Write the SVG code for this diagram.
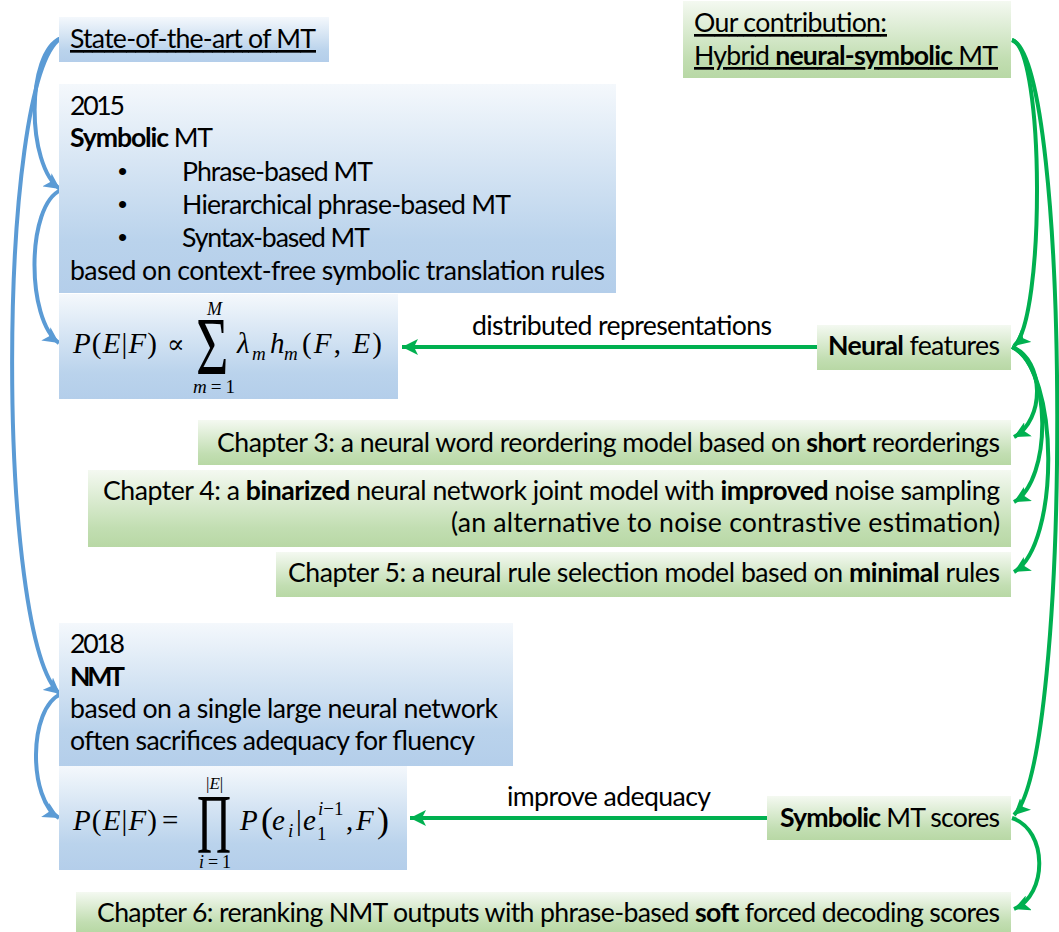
<svg xmlns="http://www.w3.org/2000/svg" width="1059" height="932" viewBox="0 0 1059 932">
<defs>
<linearGradient id="gb" x1="0" y1="0" x2="0" y2="1">
<stop offset="0" stop-color="#F4F8FC"/>
<stop offset="0.75" stop-color="#BAD3EC"/>
<stop offset="1" stop-color="#B4CEEA"/>
</linearGradient>
<linearGradient id="gg" x1="0" y1="0" x2="0" y2="1">
<stop offset="0" stop-color="#F4F9F1"/>
<stop offset="0.75" stop-color="#C2DEB2"/>
<stop offset="1" stop-color="#B8D8A5"/>
</linearGradient>
<marker id="ab" markerUnits="userSpaceOnUse" markerWidth="18" markerHeight="16" refX="16" refY="8" orient="auto">
<path d="M0,0 L16,8 L0,16 L4,8 Z" fill="#5B9BD5"/>
</marker>
<marker id="ag" markerUnits="userSpaceOnUse" markerWidth="18" markerHeight="16" refX="16" refY="8" orient="auto">
<path d="M0,0 L16,8 L0,16 L4,8 Z" fill="#00B050"/>
</marker>
</defs>
<style>
.bx{fill:url(#gb)}
.gx{fill:url(#gg)}
.t{font-family:Lato,"Liberation Sans",sans-serif;font-size:26.67px;fill:#000}
.b{font-weight:bold}
.u{text-decoration:underline}
.m{font-family:"Liberation Serif","DejaVu Serif",serif;fill:#000}
.i{font-style:italic}
.bul{font-family:"Liberation Sans",sans-serif;font-size:26px;fill:#000}
.cb{fill:none;stroke:#5B9BD5;stroke-width:4;marker-end:url(#ab)}
.cg{fill:none;stroke:#00B050;stroke-width:4;marker-end:url(#ag)}
</style>

<g id="connectors">
<path class="cb" d="M61,38 C26,52 26,165 60,189"/>
<path class="cb" d="M61,190 C26,205 26,320 59,343"/>
<path class="cb" d="M61,38 C-4,80 -4,640 60,694"/>
<path class="cb" d="M61,694 C28,708 28,800 59,818"/>
<path class="cg" d="M1012,40 C1045,50 1045,320 1014,346"/>
<path class="cg" d="M1012,40 C1072,60 1072,760 1014,815"/>
<path class="cg" d="M1012,347 C1045,360 1045,420 1014,437"/>
<path class="cg" d="M1012,347 C1052,365 1052,480 1014,502"/>
<path class="cg" d="M1012,347 C1060,370 1060,545 1014,572"/>
<path class="cg" d="M1012,818 C1048,830 1048,895 1014,909"/>
<path class="cg" d="M817,347 L402,347"/>
<path class="cg" d="M767,818 L410,818"/>
<text class="t" x="472" y="335" textLength="300">distributed representations</text>
<text class="t" x="507" y="806" textLength="204">improve adequacy</text>
</g>

<g id="state">
<rect class="bx" x="59" y="17" width="270" height="45"/>
<text class="t u" x="70" y="48" textLength="246">State-of-the-art of MT</text>
</g>

<g id="smt2015">
<rect class="bx" x="59" y="84" width="557" height="209"/>
<text class="t" x="70" y="115" textLength="55">2015</text>
<text class="t" x="70" y="147" textLength="143"><tspan class="b">Symbolic</tspan> MT</text>
<text class="bul" x="118" y="180">•</text>
<text class="t" x="182" y="181" textLength="191">Phrase-based MT</text>
<text class="bul" x="118" y="213">•</text>
<text class="t" x="182" y="214" textLength="329">Hierarchical phrase-based MT</text>
<text class="bul" x="118" y="246">•</text>
<text class="t" x="182" y="247" textLength="188">Syntax-based MT</text>
<text class="t" x="70" y="280" textLength="535">based on context-free symbolic translation rules</text>
</g>

<g id="formula1">
<rect class="bx" x="59" y="294" width="339" height="105"/>
<text class="m" x="73" y="353" font-size="29" textLength="84"><tspan class="i">P</tspan>(<tspan class="i">E</tspan>|<tspan class="i">F</tspan>)</text>
<text class="m" x="167" y="353" font-size="26" font-family="DejaVu Serif">∝</text>
<text class="m" x="0" y="0" font-size="82" transform="translate(196,374) scale(0.68,1)">Σ</text>
<text class="m i" x="207" y="315" font-size="18">M</text>
<text class="m" x="193" y="393" font-size="19" textLength="42"><tspan class="i">m</tspan>=1</text>
<text class="m i" x="237" y="353" font-size="29">λ</text>
<text class="m i" x="252" y="360" font-size="19">m</text>
<text class="m i" x="270" y="353" font-size="29">h</text>
<text class="m i" x="284" y="360" font-size="19">m</text>
<text class="m" x="302" y="353" font-size="29" textLength="80">(<tspan class="i">F</tspan>, <tspan class="i">E</tspan>)</text>
</g>

<g id="nmt2018">
<rect class="bx" x="59" y="623" width="454" height="143"/>
<text class="t" x="70" y="653" textLength="55">2018</text>
<text class="t b" x="70" y="686" textLength="55">NMT</text>
<text class="t" x="70" y="718" textLength="428">based on a single large neural network</text>
<text class="t" x="70" y="750" textLength="405">often sacrifices adequacy for fluency</text>
</g>

<g id="formula2">
<rect class="bx" x="59" y="766" width="348" height="104"/>
<text class="m" x="73" y="830" font-size="29" textLength="84"><tspan class="i">P</tspan>(<tspan class="i">E</tspan>|<tspan class="i">F</tspan>)</text>
<text class="m" x="162" y="830" font-size="29">=</text>
<text class="m" x="0" y="0" font-size="84" transform="translate(197,853) scale(0.56,1)">Π</text>
<text class="m" x="206" y="789" font-size="17">|<tspan class="i">E</tspan>|</text>
<text class="m" x="199" y="868" font-size="18" textLength="32"><tspan class="i">i</tspan>=1</text>
<text class="m i" x="240" y="830" font-size="29">P</text>
<text class="m" x="261" y="832" font-size="36">(</text>
<text class="m i" x="272" y="830" font-size="29">e</text>
<text class="m i" x="288" y="837" font-size="19">i</text>
<text class="m" x="296" y="830" font-size="29">|</text>
<text class="m i" x="303" y="830" font-size="29">e</text>
<text class="m" x="317" y="840" font-size="19">1</text>
<text class="m" x="318" y="815" font-size="19"><tspan class="i">i</tspan>−1</text>
<text class="m" x="346" y="830" font-size="29">,</text>
<text class="m i" x="356" y="830" font-size="29">F</text>
<text class="m" x="377" y="832" font-size="36">)</text>
</g>

<g id="contribution">
<rect class="gx" x="683" y="1" width="328" height="77"/>
<text class="t u" x="694" y="32" textLength="193">Our contribution:</text>
<text class="t u" x="694" y="65" textLength="304">Hybrid <tspan class="b">neural-symbolic</tspan> MT</text>
</g>

<g id="neural">
<rect class="gx" x="817" y="325" width="194" height="45"/>
<text class="t" x="828" y="355" textLength="172"><tspan class="b">Neural</tspan> features</text>
</g>

<g id="ch3">
<rect class="gx" x="198" y="420" width="813" height="45"/>
<text class="t" x="217" y="452" textLength="783">Chapter 3: a neural word reordering model based on <tspan class="b">short</tspan> reorderings</text>
</g>

<g id="ch4">
<rect class="gx" x="88" y="470" width="923" height="77"/>
<text class="t" x="103" y="500" textLength="897">Chapter 4: a <tspan class="b">binarized</tspan> neural network joint model with <tspan class="b">improved</tspan> noise sampling</text>
<text class="t" x="451" y="532" textLength="549">(an alternative to noise contrastive estimation)</text>
</g>

<g id="ch5">
<rect class="gx" x="276" y="552" width="735" height="45"/>
<text class="t" x="288" y="582" textLength="712">Chapter 5: a neural rule selection model based on <tspan class="b">minimal</tspan> rules</text>
</g>

<g id="symscores">
<rect class="gx" x="767" y="796" width="244" height="44"/>
<text class="t" x="780" y="827" textLength="220"><tspan class="b">Symbolic</tspan> MT scores</text>
</g>

<g id="ch6">
<rect class="gx" x="76" y="892" width="935" height="40"/>
<text class="t" x="97" y="922" textLength="903">Chapter 6: reranking NMT outputs with phrase-based <tspan class="b">soft</tspan> forced decoding scores</text>
</g>
</svg>
